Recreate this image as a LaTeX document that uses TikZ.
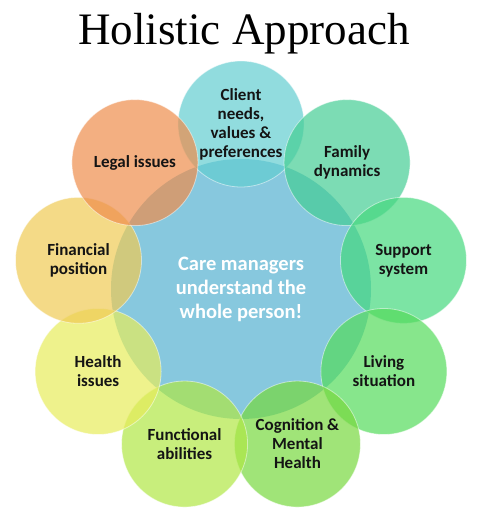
\documentclass[tikz,border=0pt]{standalone}
\usepackage{fontspec}
\setmainfont{Liberation Serif}
\newfontfamily\bubblefont{Carlito}
\usetikzlibrary{calc}
\definecolor{hubblue}{RGB}{135,200,222}
\definecolor{cClient}{RGB}{98,205,208}
\definecolor{cFamily}{RGB}{69,205,148}
\definecolor{cSupport}{RGB}{69,216,126}
\definecolor{cLiving}{RGB}{84,219,91}
\definecolor{cCognition}{RGB}{119,216,62}
\definecolor{cFunctional}{RGB}{176,231,69}
\definecolor{cHealth}{RGB}{231,236,91}
\definecolor{cFinancial}{RGB}{239,202,84}
\definecolor{cLegal}{RGB}{238,141,76}
\definecolor{inkdark}{RGB}{20,20,20}
\tikzset{
    headline/.style = {font=\fontsize{45}{54}\selectfont, inner sep=0pt},
    hub/.style      = {circle, fill=hubblue, minimum size=260pt, inner sep=0pt,
            align=center, text=white,
            font=\bubblefont\bfseries\fontsize{20.5}{24}\selectfont},
    bubble/.style   = {circle, minimum size=126pt, inner sep=0pt,
            fill opacity=0.7, text opacity=1, text=inkdark,
            draw=white, draw opacity=0.5, line width=0.8pt,
            align=center, font=\bubblefont\bfseries\fontsize{17}{19}\selectfont},
}
\begin{document}
\begin{tikzpicture}[x=1pt, y=1pt]
    \useasboundingbox (0,0) rectangle (479,517);
    % Title
    \node[headline, anchor=base] (title) at (244,472) {Holistic Approach};

    % Centre
    \node[hub] (hub) at (241,228) {Care managers\\ understand the\\ whole person!};

    % Ring of bubbles
    \node[bubble, fill=cClient]     (client)     at ($(hub)+(90:165)$)  {Client\\ needs,\\ values \&\\ preferences};
    \node[bubble, fill=cFamily]     (family)     at ($(hub)+(50:165)$)  {Family\\ dynamics};
    \node[bubble, fill=cSupport]    (support)    at ($(hub)+(10:165)$)  {Support\\ system};
    \node[bubble, fill=cLiving]     (living)     at ($(hub)+(-30:165)$) {Living\\ situation};
    \node[bubble, fill=cCognition]  (cognition)  at ($(hub)+(-70:165)$) {Cognition \&\\ Mental\\ Health};
    \node[bubble, fill=cFunctional] (functional) at ($(hub)+(-110:165)$) {Functional\\ abilities};
    \node[bubble, fill=cHealth]     (health)     at ($(hub)+(-150:165)$) {Health\\ issues};
    \node[bubble, fill=cFinancial]  (financial)  at ($(hub)+(170:165)$) {Financial\\ position};
    \node[bubble, fill=cLegal]      (legal)      at ($(hub)+(130:165)$) {Legal issues};
\end{tikzpicture}
\end{document}
